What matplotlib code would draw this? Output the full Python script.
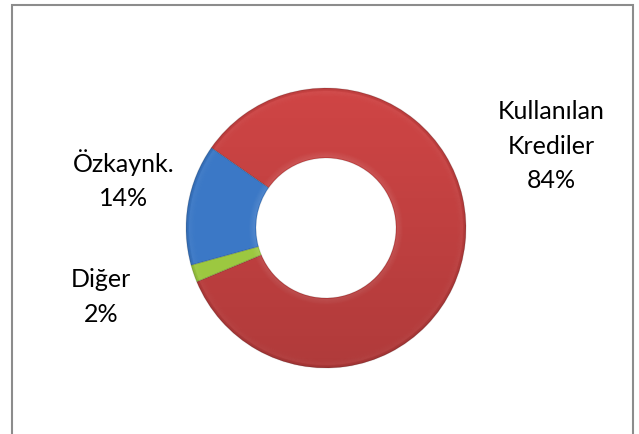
import numpy as np
import matplotlib
matplotlib.use('Agg')
import matplotlib.pyplot as plt
from matplotlib.patches import Rectangle, Wedge

# veriler (saat yönünde, sol üstten başlayarak)
labels = ['Kullanılan\nKrediler', 'Diğer', 'Özkaynk.']
values = [84, 2, 14]
colors = ['#CF4545', '#9CC840', '#3B78C6']
label_pos = [(551, 146), (101, 297), (124, 180)]

W, H = 639, 434
fig = plt.figure(figsize=(W / 100, H / 100), dpi=100)
ax = fig.add_axes([0, 0, 1, 1])

cx, cy = 326, H - 228
r_out, ring = 140, 70

wedges, _ = ax.pie(values, colors=colors, startangle=145, counterclock=False,
                   center=(cx, cy), radius=r_out,
                   wedgeprops=dict(width=ring, edgecolor='none'))

# basit 3B görünüm: kenarlarda yumuşak açık/koyu bantlar
for w in wedges:
    t1, t2 = w.theta1, w.theta2
    for k in range(6):
        ax.add_patch(Wedge((cx, cy), r_out - 3 - k, t1, t2, width=1,
                           facecolor='white', alpha=0.04 * (6 - k) / 6, lw=0))
        ax.add_patch(Wedge((cx, cy), ring + 2 + k, t1, t2, width=1,
                           facecolor='white', alpha=0.10 * (6 - k) / 6, lw=0))
    for k in range(3):
        ax.add_patch(Wedge((cx, cy), r_out - k, t1, t2, width=1,
                           facecolor='black', alpha=0.12 * (3 - k) / 3, lw=0))
    # dilimler arasında ince koyu çizgi
    ax.add_patch(Wedge((cx, cy), r_out, t1, t2, width=ring, facecolor='none',
                       edgecolor='black', alpha=0.10, lw=0.8))

# alt kısımda hafif koyulaşma
grad = np.linspace(0.15, 0.0, 256).reshape(-1, 1)
img = np.zeros((256, 1, 4))
img[..., 3] = grad
im = ax.imshow(img, extent=(cx - r_out, cx + r_out, cy - r_out, cy + r_out),
               origin='lower', zorder=3, aspect='auto')
im.set_clip_path(wedges[0])

# etiketler
for lab, v, (x, y) in zip(labels, values, label_pos):
    ax.text(x, H - y, f'{lab}\n{v}%', ha='center', va='center',
            fontsize=18, family='Lato', linespacing=1.58, color='black')

ax.set_xlim(0, W)
ax.set_ylim(0, H)
ax.set_aspect('equal')
ax.axis('off')

fig.patches.append(Rectangle((12 / W, -0.05), 621 / W, 1 - 5 / H + 0.05,
                             transform=fig.transFigure, fill=False,
                             edgecolor='#8C8C8C', linewidth=1.5))

fig.savefig('out.png', dpi=100)
